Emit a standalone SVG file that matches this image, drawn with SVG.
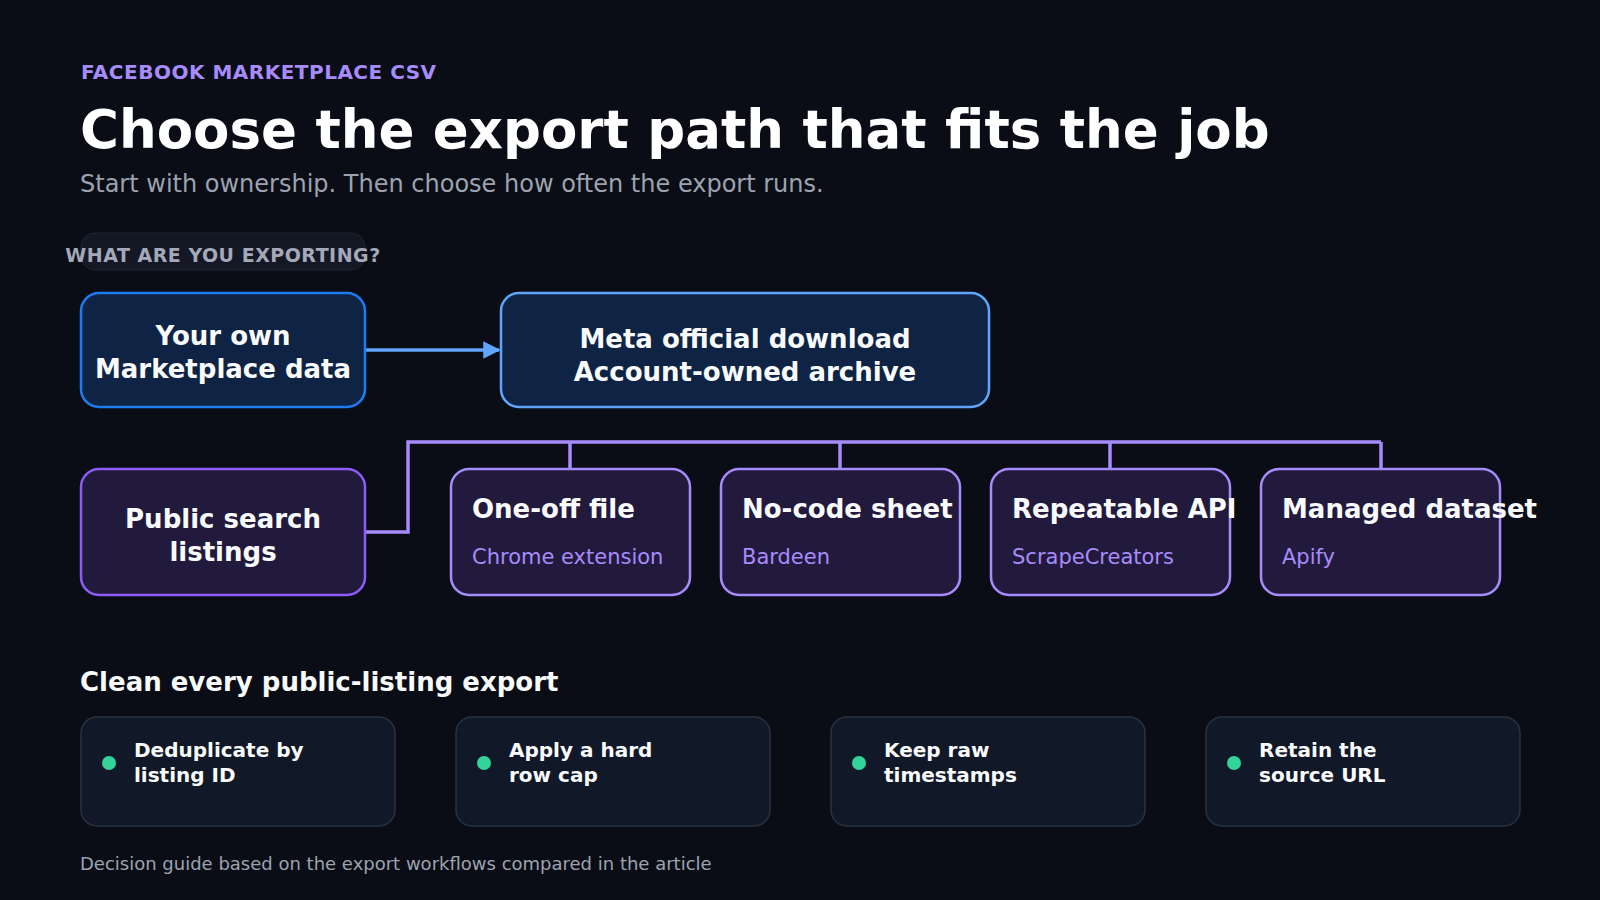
<svg xmlns="http://www.w3.org/2000/svg" width="1600" height="900" viewBox="0 0 1600 900">
<defs>
<marker id="ah" viewBox="0 0 10 10" refX="9" refY="5" markerWidth="5" markerHeight="5" orient="auto"><path d="M0,0 L10,5 L0,10 z" fill="#60a5fa"/></marker>
<style>
text{font-family:"DejaVu Sans","Liberation Sans",sans-serif}
.nt{font-size:26px;font-weight:bold;fill:#f8fafc;text-anchor:middle}
.ot{font-size:26px;font-weight:bold;fill:#f8fafc}
.os{font-size:21px;fill:#a78bfa}
.opt{fill:#221a3d;stroke:#a78bfa;stroke-width:2.5}
.card{fill:#111827;stroke:#2a3242;stroke-width:1.5}
.ct{font-size:20px;font-weight:bold;fill:#f8fafc}
.dot{fill:#34d399}
.conn{fill:none;stroke:#a78bfa;stroke-width:3.5}
</style>
</defs>
<rect width="1600" height="900" fill="#0a0d16"/>
<text x="81" y="79" font-size="20" font-weight="bold" fill="#a78bfa" letter-spacing="0.5">FACEBOOK MARKETPLACE CSV</text>
<text x="80" y="148" font-size="53" font-weight="bold" fill="#ffffff">Choose the export path that fits the job</text>
<text x="80" y="192" font-size="24" fill="#9ca3af">Start with ownership. Then choose how often the export runs.</text>
<g id="pill"><rect x="81" y="233" width="284" height="37" rx="14" fill="#141824" stroke="#1f2533"/>
<text x="223" y="262" font-size="19" font-weight="bold" fill="#a3a9b8" text-anchor="middle" letter-spacing="0.5">WHAT ARE YOU EXPORTING?</text></g>
<g id="connectors">
<line x1="365" y1="350" x2="499" y2="350" stroke="#60a5fa" stroke-width="3.5" marker-end="url(#ah)"/>
<path class="conn" d="M365,532 H408 V442 H1381"/>
<path class="conn" d="M570,442 V469 M840,442 V469 M1110,442 V469 M1381,442 V469"/>
</g>
<g id="own"><rect x="81" y="293" width="284" height="114" rx="18" fill="#0f2444" stroke="#1d7cf2" stroke-width="2.5"/>
<text class="nt" x="223" y="345">Your own</text><text class="nt" x="223" y="378">Marketplace data</text></g>
<g id="meta"><rect x="501" y="293" width="488" height="114" rx="18" fill="#0f2444" stroke="#60a5fa" stroke-width="2.5"/>
<text class="nt" x="745" y="348">Meta official download</text><text class="nt" x="745" y="381">Account-owned archive</text></g>
<g id="public"><rect x="81" y="469" width="284" height="126" rx="18" fill="#221a3d" stroke="#8b5cf6" stroke-width="2.5"/>
<text class="nt" x="223" y="528">Public search</text><text class="nt" x="223" y="561">listings</text></g>
<g id="oneoff"><rect class="opt" x="451" y="469" width="239" height="126" rx="18"/><text class="ot" x="472" y="518">One-off file</text><text class="os" x="472" y="564">Chrome extension</text></g>
<g id="nocode"><rect class="opt" x="721" y="469" width="239" height="126" rx="18"/><text class="ot" x="742" y="518">No-code sheet</text><text class="os" x="742" y="564">Bardeen</text></g>
<g id="api"><rect class="opt" x="991" y="469" width="239" height="126" rx="18"/><text class="ot" x="1012" y="518">Repeatable API</text><text class="os" x="1012" y="564">ScrapeCreators</text></g>
<g id="managed"><rect class="opt" x="1261" y="469" width="239" height="126" rx="18"/><text class="ot" x="1282" y="518">Managed dataset</text><text class="os" x="1282" y="564">Apify</text></g>
<text x="80" y="691" font-size="26" font-weight="bold" fill="#f8fafc">Clean every public-listing export</text>
<g id="c1"><rect class="card" x="81" y="717" width="314" height="109" rx="16"/><circle class="dot" cx="109" cy="763" r="7"/><text class="ct" x="134" y="757">Deduplicate by</text><text class="ct" x="134" y="782">listing ID</text></g>
<g id="c2"><rect class="card" x="456" y="717" width="314" height="109" rx="16"/><circle class="dot" cx="484" cy="763" r="7"/><text class="ct" x="509" y="757">Apply a hard</text><text class="ct" x="509" y="782">row cap</text></g>
<g id="c3"><rect class="card" x="831" y="717" width="314" height="109" rx="16"/><circle class="dot" cx="859" cy="763" r="7"/><text class="ct" x="884" y="757">Keep raw</text><text class="ct" x="884" y="782">timestamps</text></g>
<g id="c4"><rect class="card" x="1206" y="717" width="314" height="109" rx="16"/><circle class="dot" cx="1234" cy="763" r="7"/><text class="ct" x="1259" y="757">Retain the</text><text class="ct" x="1259" y="782">source URL</text></g>
<text x="80" y="870" font-size="18" fill="#9ca3af">Decision guide based on the export workflows compared in the article</text>
</svg>
